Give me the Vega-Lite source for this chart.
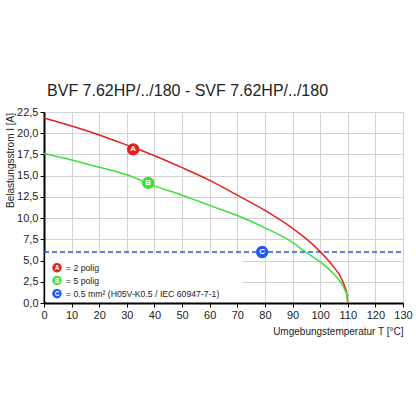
{
  "$schema": "https://vega.github.io/schema/vega-lite/v6.json",
  "width": 359,
  "height": 191,
  "autosize": "none",
  "padding": {"left": 44, "top": 112, "right": 13, "bottom": 113},
  "background": "white",
  "config": {
    "view": {"stroke": null},
    "font": "Liberation Sans",
    "axis": {
      "domainColor": "black",
      "domainWidth": 2,
      "tickColor": "black",
      "tickSize": 4,
      "tickWidth": 1,
      "gridColor": "#d2d2d2",
      "gridWidth": 1,
      "labelFont": "Liberation Sans",
      "labelFontSize": 11,
      "labelColor": "#222",
      "labelFlush": false,
      "labelOverlap": false,
      "titleFont": "Liberation Sans",
      "titleFontSize": 10,
      "titleFontWeight": "normal",
      "titleColor": "#222"
    }
  },
  "datasets": {
    "curves": [
      {"series": "A", "T": 0, "I": 21.8},
      {"series": "A", "T": 10, "I": 20.85},
      {"series": "A", "T": 20, "I": 19.8},
      {"series": "A", "T": 30, "I": 18.6},
      {"series": "A", "T": 40, "I": 17.35},
      {"series": "A", "T": 50, "I": 15.95},
      {"series": "A", "T": 60, "I": 14.45},
      {"series": "A", "T": 70, "I": 12.7},
      {"series": "A", "T": 80, "I": 10.9},
      {"series": "A", "T": 90, "I": 8.8},
      {"series": "A", "T": 95, "I": 7.55},
      {"series": "A", "T": 100, "I": 6.05},
      {"series": "A", "T": 103, "I": 5.0},
      {"series": "A", "T": 105, "I": 4.2},
      {"series": "A", "T": 107, "I": 3.3},
      {"series": "A", "T": 108, "I": 2.65},
      {"series": "A", "T": 109, "I": 1.85},
      {"series": "A", "T": 109.7, "I": 1.0},
      {"series": "A", "T": 110, "I": 0},
      {"series": "B", "T": 0, "I": 17.6},
      {"series": "B", "T": 10, "I": 16.85},
      {"series": "B", "T": 20, "I": 16.0},
      {"series": "B", "T": 30, "I": 15.1},
      {"series": "B", "T": 40, "I": 13.8},
      {"series": "B", "T": 50, "I": 12.7},
      {"series": "B", "T": 60, "I": 11.5},
      {"series": "B", "T": 70, "I": 10.3},
      {"series": "B", "T": 80, "I": 8.85},
      {"series": "B", "T": 90, "I": 7.15},
      {"series": "B", "T": 95, "I": 5.95},
      {"series": "B", "T": 100, "I": 4.85},
      {"series": "B", "T": 103, "I": 4.05},
      {"series": "B", "T": 105, "I": 3.4},
      {"series": "B", "T": 107, "I": 2.65},
      {"series": "B", "T": 108, "I": 2.15},
      {"series": "B", "T": 109, "I": 1.5},
      {"series": "B", "T": 109.7, "I": 0.85},
      {"series": "B", "T": 110, "I": 0}
    ],
    "markers": [
      {"series": "A", "T": 32.3, "I": 18.1},
      {"series": "B", "T": 37.7, "I": 14.15},
      {"series": "C", "T": 79, "I": 6.0}
    ],
    "legend": [
      {"series": "A", "T": 4.7, "I": 4.15, "label": "= 2 polig"},
      {"series": "B", "T": 4.7, "I": 2.65, "label": "= 5 polig"},
      {"series": "C", "T": 4.7, "I": 1.1, "label": "= 0.5 mm² (H05V-K0.5 / IEC 60947-7-1)"}
    ],
    "heading": [{"T": 1.1, "I": 24.4, "label": "BVF 7.62HP/../180 - SVF 7.62HP/../180"}],
    "box": [{"T": 0.5, "T2": 72, "I": 0.15, "I2": 5.85}],
    "limit": [{"T": 0, "T2": 130, "I": 6.0}]
  },
  "encoding": {
    "x": {
      "field": "T",
      "type": "quantitative",
      "scale": {"domain": [0, 130], "nice": false},
      "axis": {
        "values": [0, 10, 20, 30, 40, 50, 60, 70, 80, 90, 100, 110, 120, 130],
        "title": "Umgebungstemperatur T [°C]",
        "titleAnchor": "end",
        "titleAlign": "right",
        "titleX": 359,
        "titleY": 31,
        "titleBaseline": "alphabetic"
      }
    },
    "y": {
      "field": "I",
      "type": "quantitative",
      "scale": {"domain": [0, 22.5], "nice": false},
      "axis": {
        "values": [0, 2.5, 5, 7.5, 10, 12.5, 15, 17.5, 20, 22.5],
        "labelExpr": "replace(format(datum.value, '.1f'), '.', ',')",
        "title": "Belastungsstrom I [A]",
        "titleAngle": -90,
        "titleAlign": "center",
        "titleX": -31,
        "titleY": 48,
        "titleBaseline": "alphabetic"
      }
    }
  },
  "layer": [
    {
      "data": {"name": "box"},
      "mark": {"type": "rect", "fill": "white", "stroke": null},
      "encoding": {
        "x2": {"field": "T2"},
        "y2": {"field": "I2"}
      }
    },
    {
      "data": {"name": "limit"},
      "mark": {"type": "rule", "color": "#1f5bf0", "strokeWidth": 1.5, "strokeDash": [5, 3]},
      "encoding": {
        "x2": {"field": "T2"}
      }
    },
    {
      "data": {"name": "curves"},
      "mark": {"type": "line", "strokeWidth": 1.5, "interpolate": "monotone"},
      "encoding": {
        "color": {
          "field": "series",
          "type": "nominal",
          "scale": {"domain": ["A", "B", "C"], "range": ["#e6201c", "#3ce03a", "#1f5bf0"]},
          "legend": null
        }
      }
    },
    {
      "data": {"name": "markers"},
      "mark": {"type": "point", "shape": "circle", "filled": true, "size": 155, "opacity": 1},
      "encoding": {
        "color": {"field": "series", "type": "nominal", "legend": null}
      }
    },
    {
      "data": {"name": "markers"},
      "mark": {"type": "text", "color": "white", "fontSize": 8, "fontWeight": "bold", "font": "Liberation Sans"},
      "encoding": {
        "text": {"field": "series"}
      }
    },
    {
      "data": {"name": "legend"},
      "mark": {"type": "point", "shape": "circle", "filled": true, "size": 90, "opacity": 1},
      "encoding": {
        "color": {"field": "series", "type": "nominal", "legend": null}
      }
    },
    {
      "data": {"name": "legend"},
      "mark": {"type": "text", "color": "white", "fontSize": 6.5, "fontWeight": "bold", "font": "Liberation Sans"},
      "encoding": {
        "text": {"field": "series"}
      }
    },
    {
      "data": {"name": "legend"},
      "mark": {"type": "text", "color": "#222", "fontSize": 8.7, "align": "left", "dx": 9, "font": "Liberation Sans"},
      "encoding": {
        "text": {"field": "label"}
      }
    },
    {
      "data": {"name": "heading"},
      "mark": {"type": "text", "color": "#222", "fontSize": 16, "align": "left", "baseline": "alphabetic", "font": "Liberation Sans"},
      "encoding": {
        "text": {"field": "label"}
      }
    }
  ]
}
